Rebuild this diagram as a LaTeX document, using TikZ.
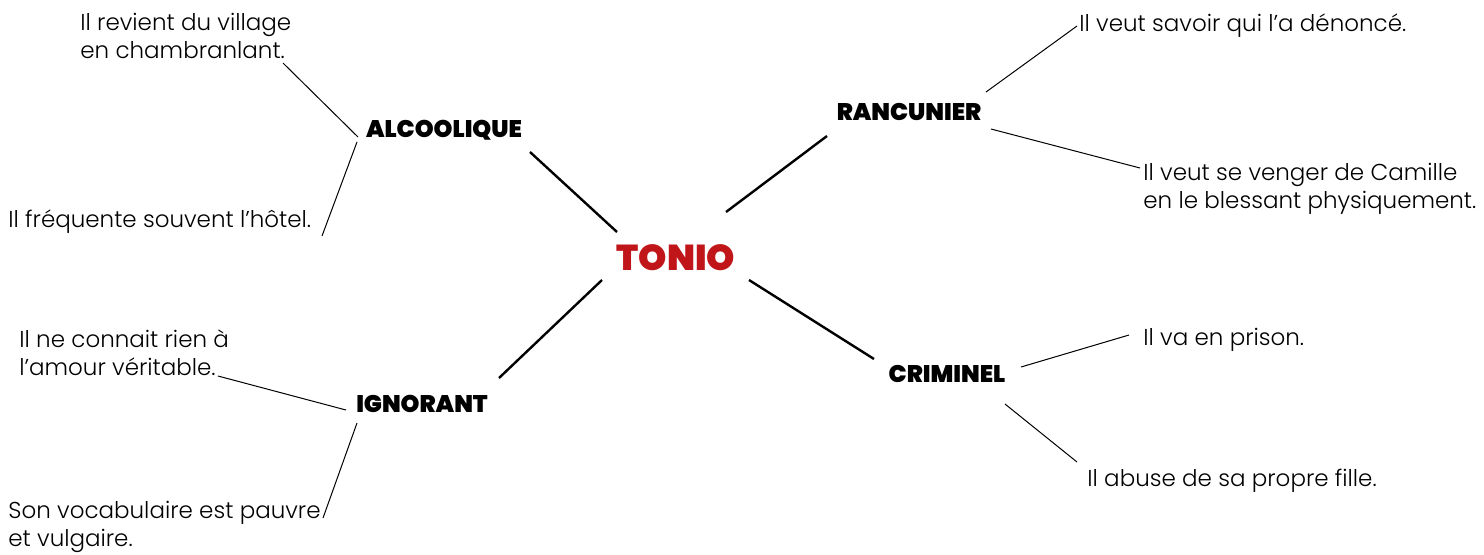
\documentclass[tikz,border=0pt]{standalone}
\usepackage{fontspec}
\setmainfont{Poppins Light}
\newfontfamily\heavyf{Poppins Black}
\definecolor{tonred}{HTML}{C0161A}
\begin{document}
\begin{tikzpicture}[x=0.5pt,y=-0.5pt,
  quote/.style={inner sep=0pt,anchor=west,align=left,font=\fontsize{11.5}{14}\selectfont},
  trait/.style={inner sep=0pt,font=\heavyf\fontsize{12}{14}\selectfont},
  hub/.style={line width=1.2pt},
  twig/.style={line width=0.5pt}]
\useasboundingbox (0,0) rectangle (1484,554);
\node[inner sep=0pt,text=tonred,font=\heavyf\fontsize{18}{20}\selectfont] (tonio) at (676,258) {TONIO};
\node[trait] (alc) at (444,130) {ALCOOLIQUE};
\node[trait] (ran) at (909,112) {RANCUNIER};
\node[trait] (ign) at (422,404) {IGNORANT};
\node[trait] (cri) at (947,374) {CRIMINEL};
\node[quote] (q1) at (80,36) {Il revient du village\\en chambranlant.};
\node[quote] (q2) at (8,222) {Il fréquente souvent l’hôtel.};
\node[quote] (q3) at (1079,26) {Il veut savoir qui l’a dénoncé.};
\node[quote] (q4) at (1143,189) {Il veut se venger de Camille\\en le blessant physiquement.};
\node[quote] (q5) at (19,353) {Il ne connait rien à\\l’amour véritable.};
\node[quote] (q6) at (8,527) {Son vocabulaire est pauvre\\et vulgaire.};
\node[quote] (q7) at (1143,340) {Il va en prison.};
\node[quote] (q8) at (1087,481) {Il abuse de sa propre fille.};
\draw[hub] ([shift={(-59,-26)}]tonio.center) -- ([shift={(86,22)}]alc.center);
\draw[hub] ([shift={(50,-46)}]tonio.center) -- ([shift={(-82,24)}]ran.center);
\draw[hub] ([shift={(-74,22)}]tonio.center) -- ([shift={(77,-26)}]ign.center);
\draw[hub] ([shift={(73,22)}]tonio.center) -- ([shift={(-73,-15)}]cri.center);
\draw[twig] ([shift={(-86,7)}]alc.center) -- ([shift={(203,27)}]q1.west);
\draw[twig] ([shift={(-87,12)}]alc.center) -- ([shift={(314,14)}]q2.west);
\draw[twig] ([shift={(77,-20)}]ran.center) -- ([shift={(-2,0)}]q3.west);
\draw[twig] ([shift={(82,17)}]ran.center) -- ([shift={(-3,-21)}]q4.west);
\draw[twig] ([shift={(-76,6)}]ign.center) -- ([shift={(199,23)}]q5.west);
\draw[twig] ([shift={(-65,19)}]ign.center) -- ([shift={(315,-9)}]q6.west);
\draw[twig] ([shift={(74,-7)}]cri.center) -- ([shift={(-14,-5)}]q7.west);
\draw[twig] ([shift={(58,30)}]cri.center) -- ([shift={(-10,-19)}]q8.west);
\end{tikzpicture}
\end{document}
